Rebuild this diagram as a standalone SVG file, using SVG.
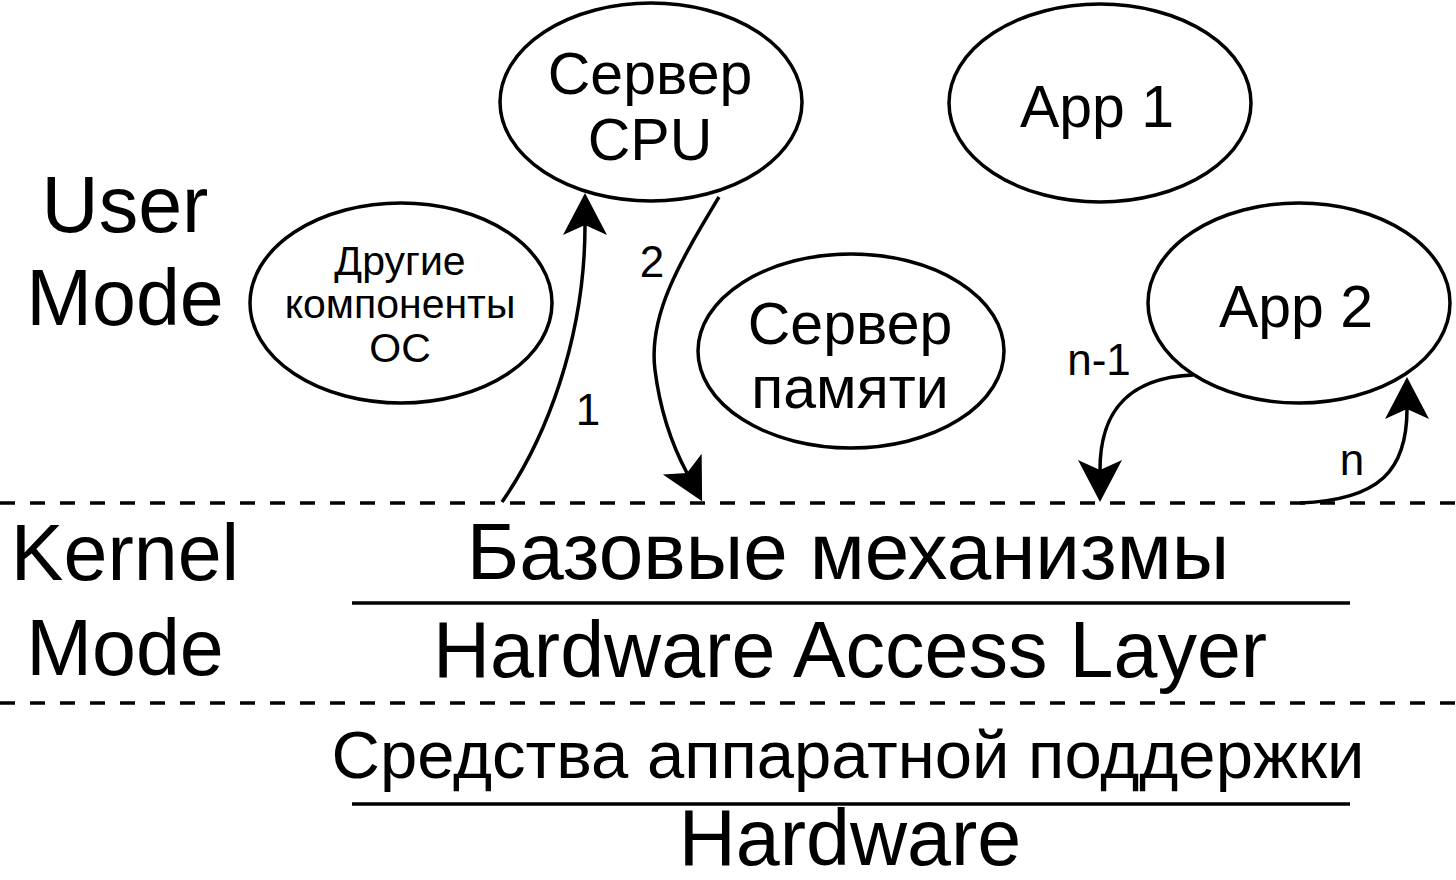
<svg xmlns="http://www.w3.org/2000/svg" width="1456" height="880" viewBox="0 0 1456 880">
  <style>
    .node { fill: #ffffff; stroke: #000000; stroke-width: 3.5; }
    .t { font-family: "Liberation Sans", Arial, Helvetica, sans-serif; fill: #000000; text-anchor: middle; }
    .big { font-size: 79px; }
    .mid { font-size: 59px; }
    .small { font-size: 41px; }
    .lbl { font-size: 44px; }
    .dash { stroke: #000000; stroke-width: 3.5; stroke-dasharray: 15 15; fill: none; }
    .solid { stroke: #000000; stroke-width: 3.5; fill: none; }
    .edge { stroke: #000000; stroke-width: 3.5; fill: none; marker-end: url(#arrow); }
  </style>
  <defs>
    <marker id="arrow" markerUnits="userSpaceOnUse" markerWidth="60" markerHeight="60" viewBox="-15 -30 60 60" refX="0" refY="0" orient="auto">
      <path d="M32,0 L-10,-22 L0,0 L-10,22 Z" fill="#000000" stroke="none"/>
    </marker>
  </defs>
  <rect x="0" y="0" width="1456" height="880" fill="#ffffff"/>

  <g id="layers">
    <line class="dash" x1="0" y1="503" x2="1456" y2="503"/>
    <line class="dash" x1="0" y1="703" x2="1456" y2="703"/>
    <line class="solid" x1="352" y1="603" x2="1350" y2="603"/>
    <line class="solid" x1="352" y1="804" x2="1350" y2="804"/>
  </g>

  <g id="mode-labels">
    <text class="t big" x="125" y="232">User</text>
    <text class="t big" x="125" y="325">Mode</text>
    <text class="t big" x="125" y="580">Kernel</text>
    <text class="t big" x="125" y="675">Mode</text>
  </g>

  <g id="layer-labels">
    <text class="t" style="font-size:80px" x="848" y="579">Базовые механизмы</text>
    <text class="t big" x="850" y="677">Hardware Access Layer</text>
    <text class="t" style="font-size:67px" x="848" y="778">Средства аппаратной поддержки</text>
    <text class="t big" x="850" y="865">Hardware</text>
  </g>

  <g id="node-cpu">
    <ellipse class="node" cx="651" cy="102" rx="151" ry="99"/>
    <text class="t mid" x="650" y="94">Сервер</text>
    <text class="t mid" x="650" y="160">CPU</text>
  </g>

  <g id="node-app1">
    <ellipse class="node" cx="1100" cy="103" rx="151" ry="99"/>
    <text class="t mid" x="1097" y="127">App 1</text>
  </g>

  <g id="node-other">
    <ellipse class="node" cx="401" cy="303" rx="151" ry="100"/>
    <text class="t small" x="400" y="275">Другие</text>
    <text class="t small" x="400" y="318">компоненты</text>
    <text class="t small" x="400" y="362">ОС</text>
  </g>

  <g id="node-memory">
    <ellipse class="node" cx="851" cy="351" rx="153" ry="97"/>
    <text class="t mid" x="850" y="344">Сервер</text>
    <text class="t mid" x="850" y="408">памяти</text>
  </g>

  <g id="node-app2">
    <ellipse class="node" cx="1299" cy="303" rx="151" ry="100"/>
    <text class="t mid" x="1296" y="327">App 2</text>
  </g>

  <g id="connectors">
    <path class="edge" d="M502,502 C545,440 585,340 585,225"/>
    <path class="edge" d="M719,197 C680,262 648,315 655,370 C660,410 672,445 687,473"/>
    <path class="edge" d="M1193,375 C1120,378 1100,420 1100,470"/>
    <path class="edge" d="M1300,503 C1380,500 1407,470 1407,409"/>
    <text class="t lbl" x="588" y="425">1</text>
    <text class="t lbl" x="652" y="277">2</text>
    <text class="t lbl" x="1099" y="375">n-1</text>
    <text class="t lbl" x="1352" y="475">n</text>
  </g>
</svg>
